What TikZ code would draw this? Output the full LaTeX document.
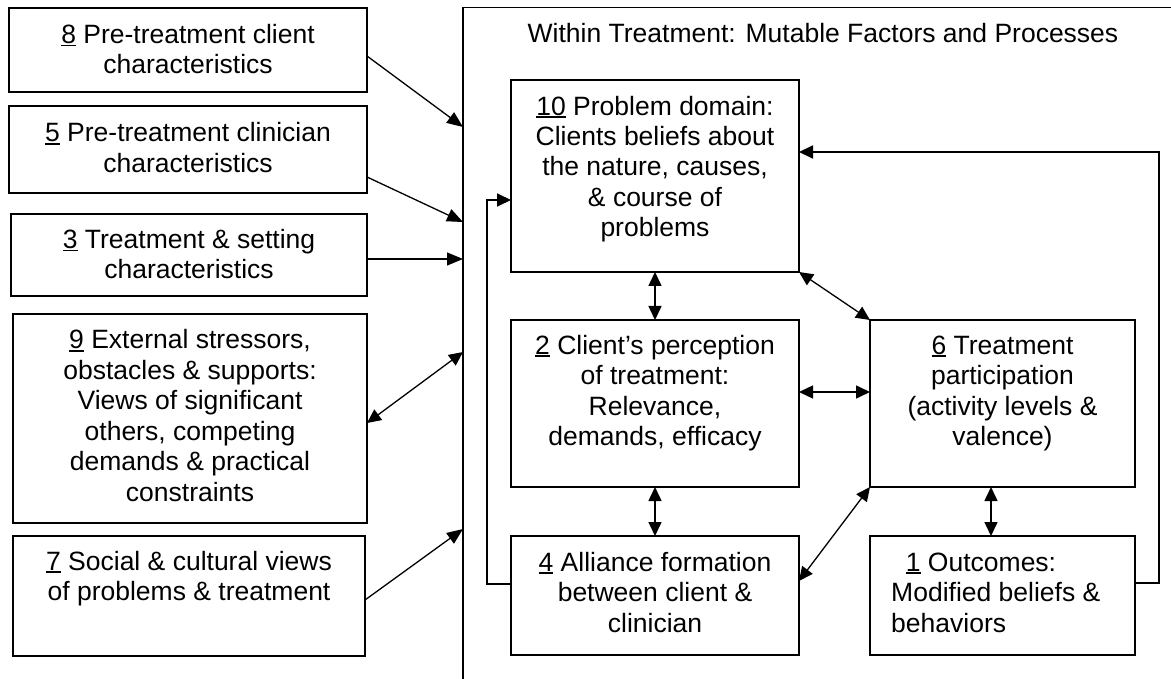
\documentclass[tikz,border=0pt]{standalone}
\usepackage{fontspec}
\setmainfont{Liberation Sans}
\usetikzlibrary{arrows.meta}

% underlined item number
\newcommand\unum[1]{\setbox0\hbox{#1}\rlap{\rule[-3pt]{\wd0}{1.6pt}}\box0\relax}

\begin{document}
\begin{tikzpicture}[x=1pt,y=-1pt,
  box/.style={draw, line width=1.8pt, inner sep=0pt, outer sep=0pt},
  txt/.style={align=center, font=\fontsize{26.5}{30.5}\selectfont, inner sep=0pt, anchor=base},
  arr/.style={line width=1.3pt, -{Triangle[length=16pt,width=13pt]}},
  dbl/.style={line width=1.5pt, {Triangle[length=14pt,width=13pt]}-{Triangle[length=14pt,width=13pt]}},
  fb/.style={line width=1.8pt, -{Triangle[length=14pt,width=13pt]}},
  frame/.style={line width=1.8pt}]

\useasboundingbox (0,0) rectangle (1171,679);

% outer frame of the treatment area
\draw[frame] (1171,7.5) -- (463,7.5) -- (463,679);
\coordinate (in8) at (463,127);
\coordinate (in5) at (463,222);
\coordinate (in3) at (463,259);
\coordinate (in9) at (463,352);
\coordinate (in7) at (463,529);

% pre-treatment and external factors
\node[box, minimum width=358pt, minimum height=84pt]  (b8) at (188,50) {};
\node[box, minimum width=358pt, minimum height=87pt]  (b5) at (188,149.5) {};
\node[box, minimum width=356pt, minimum height=82pt]  (b3) at (189,255) {};
\node[box, minimum width=354pt, minimum height=209pt] (b9) at (190,418.5) {};
\node[box, minimum width=352pt, minimum height=120pt] (b7) at (189,596) {};

% (multi-line nodes: the base anchor sits on the last line)
\node[txt] (t8) at (188,73.8) {\unum{8} Pre-treatment client\\characteristics};
\node[txt] (t5) at (188,172.2) {\unum{5} Pre-treatment clinician\\characteristics};
\node[txt] (t3) at (189,278.8) {\unum{3} Treatment \& setting\\characteristics};
\node[txt] (t9) at (190,501.3) {\unum{9} External stressors,\\obstacles \& supports:\\Views of significant\\others, competing\\demands \& practical\\constraints};
\node[txt] (t7) at (189,600.5) {\unum{7} Social \& cultural views\\of problems \& treatment};

% within-treatment factors
\node[txt] (title) at (823,42.7) {Within Treatment: Mutable Factors and Processes};

\node[box, minimum width=288pt, minimum height=192pt] (b10) at (655,176) {};
\node[box, minimum width=288pt, minimum height=167pt] (b2)  at (655,403.5) {};
\node[box, minimum width=265pt, minimum height=167pt] (b6)  at (1002.5,403.5) {};
\node[box, minimum width=288pt, minimum height=119pt] (b4)  at (655,595.5) {};
\node[box, minimum width=265pt, minimum height=119pt] (b1)  at (1002.5,595.5) {};

\node[txt] (t10) at (655,237) {\unum{10} Problem domain:\\Clients beliefs about\\the nature, causes,\\\& course of\\problems};
\node[txt] (t2) at (655,445.5) {\unum{2} Client’s perception\\of treatment:\\Relevance,\\demands, efficacy};
\node[txt] (t6) at (1002.5,445.5) {\unum{6} Treatment\\participation\\(activity levels \&\\valence)};
\node[txt] (t4) at (655,632) {\unum{4} Alliance formation\\between client \&\\clinician};
\node[txt, align=left, anchor=base west] (t1) at (891,632) {\hspace*{14.7pt}\unum{1} Outcomes:\\Modified beliefs \&\\behaviors};

% influences on treatment
\draw[arr] ([yshift=-6pt]b8.east) -- (in8);
\draw[arr] ([yshift=-27.5pt]b5.east) -- (in5);
\draw[arr] ([yshift=-4pt]b3.east) -- (in3);
\draw[dbl, line width=1.3pt] ([yshift=-4.5pt]b9.east) -- (in9);
\draw[arr] ([yshift=-4pt]b7.east) -- (in7);

% relations between processes
\draw[dbl] (b10.south) -- (b2.north);
\draw[dbl, line width=1.3pt] (b10.south east) -- (b6.north west);
\draw[dbl] ([yshift=11.5pt]b2.east) -- ([yshift=11.5pt]b6.west);
\draw[dbl] (b2.south) -- (b4.north);
\draw[dbl] ([xshift=-11.5pt]b6.south) -- ([xshift=-11.5pt]b1.north);
\draw[dbl, line width=1.3pt] ([yshift=14.5pt]b4.east) -- (b6.south west);

% feedback loops to the problem domain
\draw[fb] ([yshift=12.5pt]b1.east) -- ++(24,0) |- ([yshift=24pt]b10.east);
\draw[fb] ([yshift=11.5pt]b4.west) -- ++(-24,0) |- ([yshift=-24pt]b10.west);
\end{tikzpicture}
\end{document}
